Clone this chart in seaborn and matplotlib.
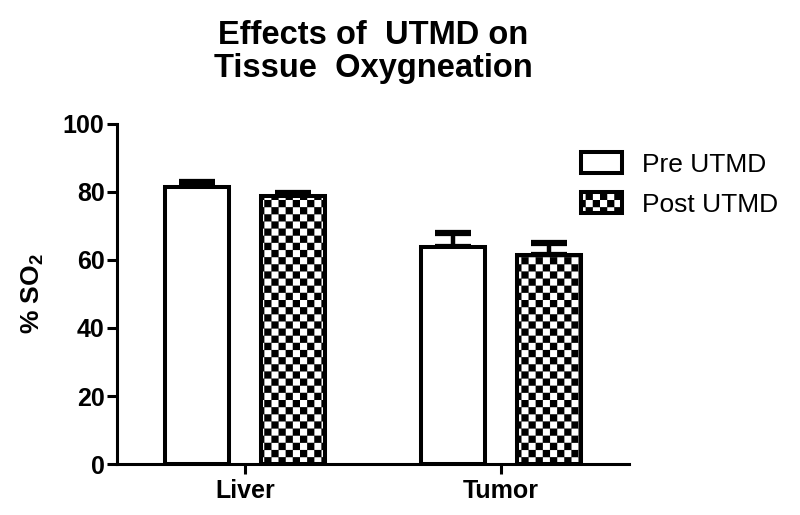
import matplotlib
matplotlib.use('Agg')
import numpy as np
import pandas as pd
import matplotlib.pyplot as plt
import matplotlib.hatch as mhatch
from matplotlib.path import Path
from matplotlib.patches import Patch
import seaborn as sns

# ---------------- data ----------------
tissues = ['Liver', 'Tumor']
conditions = ['Pre UTMD', 'Post UTMD']
pre_values = [81.6, 63.9]
post_values = [78.8, 61.4]
pre_errors = [1.2, 3.9]
post_errors = [1.0, 3.5]
y_ticks = [0, 20, 40, 60, 80, 100]
title_text = 'Effects of  UTMD on\nTissue  Oxygneation'
y_label = r'% SO$_{\mathbf{2}}$'


# ---------------- checkerboard hatch ----------------
class CheckerHatch(mhatch.HatchPatternBase):
    def __init__(self, hatch, density):
        n = 14 if 'o' in hatch else 0
        self.n = n
        self.num_vertices = (n * n // 2) * 5

    def set_vertices_and_codes(self, vertices, codes):
        n = self.n
        s = 1.0 / n
        i = 0
        for r in range(n):
            for c in range(n):
                if (r + c) % 2 == 0:
                    x0, y0 = c * s, r * s
                    vertices[i:i + 5] = [(x0, y0), (x0 + s, y0), (x0 + s, y0 + s),
                                         (x0, y0 + s), (x0, y0)]
                    codes[i] = Path.MOVETO
                    codes[i + 1:i + 4] = Path.LINETO
                    codes[i + 4] = Path.CLOSEPOLY
                    i += 5


mhatch._hatch_types[:] = [CheckerHatch]
CHECK = 'o'

plt.rcParams['font.family'] = ['Liberation Sans', 'DejaVu Sans']
plt.rcParams['mathtext.fontset'] = 'custom'
plt.rcParams['mathtext.rm'] = 'Liberation Sans'
plt.rcParams['mathtext.bf'] = 'Liberation Sans:bold'
plt.rcParams['hatch.linewidth'] = 0.1
plt.rcParams['hatch.color'] = 'black'

df = pd.DataFrame({
    'Tissue': tissues * 2,
    'Condition': [conditions[0]] * len(tissues) + [conditions[1]] * len(tissues),
    'SO2': pre_values + post_values,
})
errors = {conditions[0]: pre_errors, conditions[1]: post_errors}

fig = plt.figure(figsize=(8, 5.15), dpi=100)
ax = fig.add_axes([117 / 800, 1 - 464 / 515, (629 - 117) / 800, (464 - 124) / 515])

sns.barplot(data=df, x='Tissue', y='SO2', hue='Condition', order=tissues,
            hue_order=conditions, palette=['white', 'white'], width=0.75, gap=0.33,
            errorbar=None, edgecolor='black', linewidth=2.9, legend=False, ax=ax,
            zorder=2)

for ci, cond in enumerate(conditions):
    cont = ax.containers[ci]
    xs, ys = [], []
    for bar in cont:
        if cond == conditions[1]:
            bar.set_hatch(CHECK)
        xs.append(bar.get_x() + bar.get_width() / 2)
        ys.append(bar.get_height())
    err = errors[cond]
    _, caps, lines = ax.errorbar(xs, ys, yerr=[np.zeros(len(err)), err], fmt='none',
                                 ecolor='black', elinewidth=3.2, capsize=13,
                                 capthick=4.5, zorder=1.5)
    for c in caps:
        c.set_solid_capstyle('round')

ax.set_xlim(-0.5, 1.5)
ax.set_ylim(0, 100)
ax.set_yticks(y_ticks)
ax.set_yticklabels([str(v) for v in y_ticks], fontsize=18, fontweight='bold')
ax.set_xticklabels(tissues, fontsize=18, fontweight='bold')
ax.tick_params(axis='both', length=7, width=2.2, direction='out', colors='black')
ax.tick_params(axis='y', pad=2)
ax.tick_params(axis='x', pad=4)
for s in ['top', 'right']:
    ax.spines[s].set_visible(False)
for s in ['left', 'bottom']:
    ax.spines[s].set_linewidth(2.2)
    ax.spines[s].set_color('black')
ax.set_facecolor('white')
ax.set_xlabel('')
ax.set_ylabel(y_label, fontsize=19, fontweight='bold', labelpad=12)
ax.set_title(title_text, fontsize=23.5, fontweight='bold', pad=34, linespacing=1.08)

handles = [Patch(facecolor='white', edgecolor='black', linewidth=2.9),
           Patch(facecolor='white', edgecolor='black', linewidth=2.9, hatch=CHECK)]
fig.legend(handles, conditions, loc='upper left', bbox_to_anchor=(581 / 800, 1 - 152 / 515),
           frameon=False, fontsize=19, handlelength=1.55, handleheight=0.85,
           handletextpad=0.75, labelspacing=0.58, borderaxespad=0, borderpad=0)

fig.savefig('out.png', dpi=100, facecolor='white')
